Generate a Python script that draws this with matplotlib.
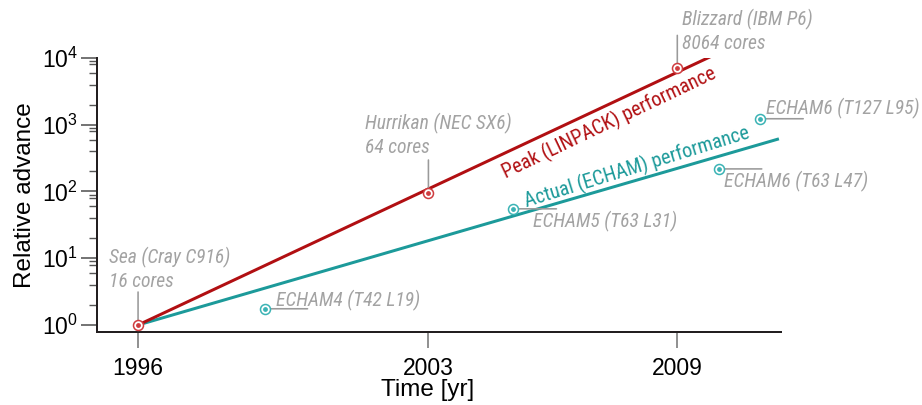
import numpy as np
import matplotlib
matplotlib.use("Agg")
import matplotlib.pyplot as plt
from matplotlib import font_manager as fm
from matplotlib.ticker import FixedLocator, FuncFormatter, NullFormatter

# ---------------- data ----------------
peak_line_years = [1996, 2009.8]
peak_line_values = [1, 10470]
actual_line_years = [1996, 2011.45]
actual_line_values = [1, 615]

machine_years = [1996, 2003, 2009]
machine_values = [1, 95, 7000]
machine_names = ["Sea (Cray C916)", "Hurrikan (NEC SX6)", "Blizzard (IBM P6)"]
machine_cores = ["16 cores", "64 cores", "8064 cores"]

model_years = [1999.05, 2005.05, 2010.0, 2011.0]
model_values = [1.75, 55, 218, 1230]
model_names = ["ECHAM4 (T42 L19)", "ECHAM5 (T63 L31)", "ECHAM6 (T63 L47)", "ECHAM6 (T127 L95)"]

x_ticks = [1996, 2003, 2009]
y_major = [1, 10, 100, 1000, 10000]
y_minor_mult = [2, 4, 6, 8, 9]

# ---------------- style ----------------
RED = "#b10f12"
RED_M = "#cf3c3f"
TEAL = "#1c9a9a"
TEAL_M = "#3bb3b5"
GRAY = "#a3a3a3"
LEAD = "#9a9a9a"
SPINE = "#231f20"
PX = 0.72  # points per pixel at dpi 100

names = {f.name for f in fm.fontManager.ttflist}
cond = next((n for n in ["Liberation Sans Narrow", "Roboto Condensed", "Open Sans Condensed"]
             if n in names), None)
if cond is None:
    cond_kw = dict(family="DejaVu Sans", fontstretch="condensed")
else:
    cond_kw = dict(family=cond)
main_font = "Liberation Sans" if "Liberation Sans" in names else "DejaVu Sans"

plt.rcParams["font.family"] = [main_font, "DejaVu Sans"]
plt.rcParams["mathtext.fontset"] = "custom"
plt.rcParams["mathtext.rm"] = main_font
plt.rcParams["mathtext.it"] = main_font + ":italic"

W, H = 922, 405
fig = plt.figure(figsize=(W / 100, H / 100), dpi=100)
L, R, B, T = 97, 781, 332, 58
ax = fig.add_axes([L / W, (H - B) / H, (R - L) / W, (B - T) / H])

ax.set_yscale("log")
ax.set_xlim(1995.01, 2011.5)
ax.set_ylim(10 ** -0.105, 10 ** 4)

# lines
ax.plot(peak_line_years, peak_line_values, color=RED, lw=3 * PX, solid_capstyle="butt", zorder=3)
ax.plot(actual_line_years, actual_line_values, color=TEAL, lw=3 * PX, solid_capstyle="butt", zorder=2)

# markers (ring + dot)
ms = (10 * PX) ** 2
ax.scatter(machine_years, machine_values, s=ms, facecolor="white", edgecolor=RED_M, lw=1.1, zorder=5)
ax.scatter(machine_years, machine_values, s=6, color=RED_M, zorder=6)
ax.scatter(model_years, model_values, s=ms, facecolor="white", edgecolor=TEAL_M, lw=1.1, zorder=5)
ax.scatter(model_years, model_values, s=6, color=TEAL_M, zorder=6)

lab_kw = dict(color=GRAY, style="italic", fontsize=14.1, **cond_kw)

# machine annotations: vertical leaders, two-line labels
machine_text_off = [(-29, 62, 38), (-63, 64, 40), (5, 43, 19)]
for xv, yv, nm, cr, (dx, d1, d2) in zip(machine_years, machine_values, machine_names,
                                         machine_cores, machine_text_off):
    ax.annotate("", xy=(xv, yv), xytext=(0, 33), textcoords="offset pixels",
                arrowprops=dict(arrowstyle="-", color=LEAD, lw=1.6 * PX, shrinkA=0, shrinkB=5 * PX))
    ax.annotate(nm, xy=(xv, yv), xytext=(dx, d1), textcoords="offset pixels",
                ha="left", va="baseline", **lab_kw)
    ax.annotate(cr, xy=(xv, yv), xytext=(dx, d2), textcoords="offset pixels",
                ha="left", va="baseline", **lab_kw)

# model annotations: horizontal leaders
model_text_off = [(11, 2), (20, -18), (5, -18), (6, 4)]
for xv, yv, nm, (dx, dy) in zip(model_years, model_values, model_names, model_text_off):
    ax.annotate("", xy=(xv, yv), xytext=(43, 0), textcoords="offset pixels",
                arrowprops=dict(arrowstyle="-", color=LEAD, lw=1.6 * PX, shrinkA=0, shrinkB=5 * PX))
    ax.annotate(nm, xy=(xv, yv), xytext=(dx, dy), textcoords="offset pixels",
                ha="left", va="baseline", **lab_kw)

# rotated line labels
def line_angle(xs, ys):
    p = ax.transData.transform(np.column_stack([xs, ys]))
    return np.degrees(np.arctan2(p[1, 1] - p[0, 1], p[1, 0] - p[0, 0]))

ax.text(2007.36, 10 ** 3.03, "Peak (LINPACK) performance", color=RED, fontsize=14.5,
        rotation=line_angle(peak_line_years, peak_line_values) + 0.4, rotation_mode="anchor",
        ha="center", va="center", **cond_kw)
ax.text(2008.02, 10 ** 2.36, "Actual (ECHAM) performance", color=TEAL, fontsize=14.5,
        rotation=line_angle(actual_line_years, actual_line_values) + 1.0, rotation_mode="anchor",
        ha="center", va="center", **cond_kw)

# axes styling
for s in ["top", "right"]:
    ax.spines[s].set_visible(False)
for s in ["left", "bottom"]:
    ax.spines[s].set_color(SPINE)
    ax.spines[s].set_linewidth(2 * PX)

ax.xaxis.set_major_locator(FixedLocator(x_ticks))
ax.xaxis.set_major_formatter(FuncFormatter(lambda v, p: f"{int(round(v))}"))
ax.tick_params(axis="x", which="major", length=16 * PX, width=1.6 * PX, color="#777777",
               labelsize=16.5, pad=9 * PX, direction="out")

ax.yaxis.set_major_locator(FixedLocator(y_major))
minors = [m * d for d in y_major[:-1] for m in y_minor_mult]
ax.yaxis.set_minor_locator(FixedLocator(minors))
ax.yaxis.set_minor_formatter(NullFormatter())
ax.yaxis.set_major_formatter(FuncFormatter(lambda v, p: r"$10^{%d}$" % int(round(np.log10(v)))))
ax.tick_params(axis="y", which="major", length=16 * PX, width=1.6 * PX, color="#555555",
               labelsize=16.5, pad=3 * PX, direction="out")
ax.tick_params(axis="y", which="minor", length=8 * PX, width=1.4 * PX, color="#555555", direction="out")

ax.set_ylabel("Relative advance", fontsize=17.5)
ax.yaxis.set_label_coords(-72 / (R - L), 0.5)
ax.set_xlabel("Time [yr]", fontsize=17.5)
ax.xaxis.set_label_coords((428 - L) / (R - L), -(390 - B) / (B - T))
ax.xaxis.label.set_va("center")
ax.yaxis.label.set_va("center")

fig.savefig("out.png", dpi=100)
